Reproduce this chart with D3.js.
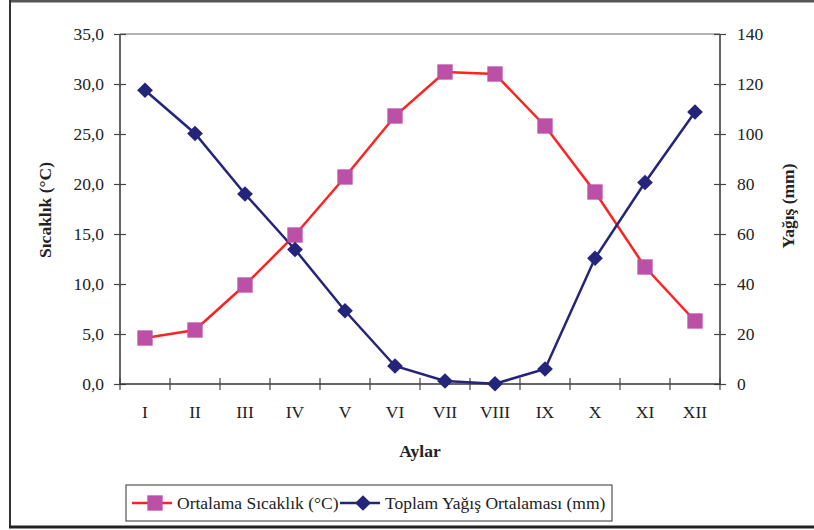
<!DOCTYPE html>
<html>
<head>
<meta charset="utf-8">
<script src="https://cdn.jsdelivr.net/npm/d3@7"></script>
<style>
  body { margin: 0; background: #fff; }
  svg { display: block; }
  text { font-family: "Liberation Serif", "Times New Roman", serif; fill: #222; }
</style>
</head>
<body>
<div id="chart"></div>
<script>
const months = ["I","II","III","IV","V","VI","VII","VIII","IX","X","XI","XII"];
const temperature = [4.6, 5.4, 9.9, 14.9, 20.7, 26.8, 31.2, 31.0, 25.8, 19.2, 11.7, 6.3];
const precipitation = [117.5, 100.2, 76.0, 53.8, 29.3, 7.2, 1.2, 0.1, 6.0, 50.3, 80.6, 108.8];
const leftTicks = [0, 5, 10, 15, 20, 25, 30, 35];
const rightTicks = [0, 20, 40, 60, 80, 100, 120, 140];
const seriesNames = ["Ortalama Sıcaklık (°C)", "Toplam Yağış Ortalaması (mm)"];

const W = 814, H = 530;
const m = { left: 120, right: 94, top: 34, bottom: 146 };
const FONT = '"Liberation Serif", "Times New Roman", serif';
const svg = d3.select("#chart").append("svg").attr("width", W).attr("height", H);

// outer frame
svg.append("line").attr("x1", 9).attr("x2", W).attr("y1", 1).attr("y2", 1).attr("stroke", "#555").attr("stroke-width", 3);
svg.append("line").attr("x1", 10).attr("x2", 10).attr("y1", 0).attr("y2", 528).attr("stroke", "#333").attr("stroke-width", 2);
svg.append("line").attr("x1", 9).attr("x2", W).attr("y1", 527).attr("y2", 527).attr("stroke", "#222").attr("stroke-width", 3);

const x = d3.scaleBand().domain(months).range([m.left, W - m.right]);
const yL = d3.scaleLinear().domain([0, 35]).range([H - m.bottom, m.top]);
const yR = d3.scaleLinear().domain([0, 140]).range([H - m.bottom, m.top]);
const cx = d => x(d) + x.bandwidth() / 2;

// top border of plot area
svg.append("line").attr("x1", m.left).attr("x2", W - m.right).attr("y1", m.top).attr("y2", m.top)
  .attr("stroke", "#999").attr("stroke-width", 1.5);

const fmt = d => d.toFixed(1).replace(".", ",");

// left axis
const gL = svg.append("g").attr("transform", `translate(${m.left},0)`)
  .call(d3.axisLeft(yL).tickValues(leftTicks).tickFormat(fmt).tickSize(6).tickPadding(10));
gL.selectAll(".tick line").attr("x2", -6).attr("x1", 6);
// right axis
const gR = svg.append("g").attr("transform", `translate(${W - m.right},0)`)
  .call(d3.axisRight(yR).tickValues(rightTicks).tickSize(6).tickPadding(11));
gR.selectAll(".tick line").attr("x1", -6).attr("x2", 6);
// bottom axis
const gB = svg.append("g").attr("transform", `translate(0,${H - m.bottom})`)
  .call(d3.axisBottom(x).tickSize(0).tickPadding(22));
const bounds = months.map(d => x(d)).concat([W - m.right]);
gB.selectAll(".bline").data(bounds).enter().append("line")
  .attr("x1", d => d).attr("x2", d => d).attr("y1", -6).attr("y2", 6)
  .attr("stroke", "#444").attr("stroke-width", 1.2);

[gL, gR, gB].forEach(g => {
  g.attr("font-family", FONT);
  g.select(".domain").attr("stroke", "#333").attr("stroke-width", 1.5);
  g.selectAll(".tick line").attr("stroke", "#444").attr("stroke-width", 1.2);
  g.selectAll(".tick text").attr("font-size", 17.5).attr("fill", "#222")
    .style("font-family", FONT);
});
gL.select(".domain").attr("d", `M0,${m.top}V${H - m.bottom}`);
gR.select(".domain").attr("d", `M0,${m.top}V${H - m.bottom}`);
gB.select(".domain").attr("d", `M${m.left},0H${W - m.right}`);

// axis titles
svg.append("text").attr("x", 420).attr("y", 457).attr("text-anchor", "middle")
  .attr("font-size", 17.5).attr("font-weight", "bold").style("font-family", FONT).text("Aylar");
svg.append("text").attr("transform", "translate(51,210) rotate(-90)").attr("text-anchor", "middle")
  .attr("font-size", 17.5).attr("font-weight", "bold").style("font-family", FONT).text("Sıcaklık (°C)");
svg.append("text").attr("transform", "translate(794,206) rotate(-90)").attr("text-anchor", "middle")
  .attr("font-size", 17.5).attr("font-weight", "bold").style("font-family", FONT).text("Yağış (mm)");

const red = "#ff2222", purple = "#bb50a6", navy = "#24247a";

// temperature line
svg.append("path").datum(temperature)
  .attr("d", d3.line().x((d, i) => cx(months[i])).y(d => yL(d)))
  .attr("fill", "none").attr("stroke", red).attr("stroke-width", 2.5);
// precipitation line
svg.append("path").datum(precipitation)
  .attr("d", d3.line().x((d, i) => cx(months[i])).y(d => yR(d)))
  .attr("fill", "none").attr("stroke", navy).attr("stroke-width", 2.5);

const sq = d3.symbol().type(d3.symbolSquare).size(235);
const dia = d3.symbol().type(d3.symbolSquare).size(124);

svg.selectAll(".tm").data(temperature).enter().append("path")
  .attr("d", sq).attr("transform", (d, i) => `translate(${cx(months[i])},${yL(d)})`)
  .attr("fill", purple);
svg.selectAll(".pm").data(precipitation).enter().append("path")
  .attr("d", dia).attr("transform", (d, i) => `translate(${cx(months[i])},${yR(d)}) rotate(45)`)
  .attr("fill", navy);

// legend
const lg = svg.append("g");
lg.append("rect").attr("x", 126).attr("y", 485).attr("width", 486).attr("height", 36)
  .attr("fill", "#fff").attr("stroke", "#333").attr("stroke-width", 1);
lg.append("line").attr("x1", 132).attr("x2", 172).attr("y1", 503).attr("y2", 503).attr("stroke", red).attr("stroke-width", 2.5);
lg.append("path").attr("d", sq).attr("transform", "translate(155,503)").attr("fill", purple);
lg.append("text").attr("x", 177).attr("y", 509).attr("font-size", 17.5).style("font-family", FONT).text(seriesNames[0]);
lg.append("line").attr("x1", 340).attr("x2", 380).attr("y1", 503).attr("y2", 503).attr("stroke", navy).attr("stroke-width", 2.5);
lg.append("path").attr("d", dia).attr("transform", "translate(363,503) rotate(45)").attr("fill", navy);
lg.append("text").attr("x", 385).attr("y", 509).attr("font-size", 17.5).style("font-family", FONT).text(seriesNames[1]);
</script>
</body>
</html>
